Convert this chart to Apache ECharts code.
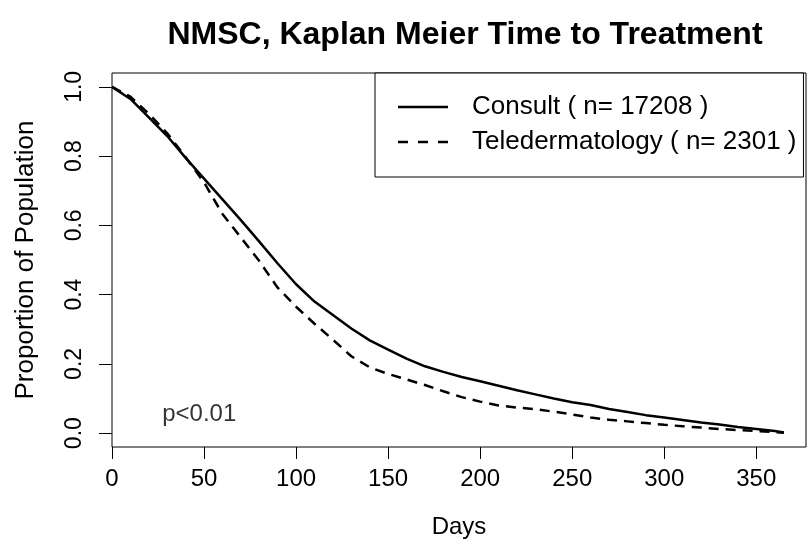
<!DOCTYPE html>
<html>
<head>
<meta charset="utf-8">
<script src="https://cdn.jsdelivr.net/npm/echarts@6/dist/echarts.min.js"></script>
<style>
html,body{margin:0;padding:0;background:#fff;}
#chart{width:809px;height:544px;}
</style>
</head>
<body>
<div id="chart"></div>
<script>
const titleText = 'NMSC, Kaplan Meier Time to Treatment';
const xName = 'Days';
const yName = 'Proportion of Population';
const xTicks = [0, 50, 100, 150, 200, 250, 300, 350];
const yTicks = [0, 0.2, 0.4, 0.6, 0.8, 1.0];
const days = [0,10,20,30,40,50,60,70,80,90,100,110,120,130,140,150,160,170,180,190,200,210,220,230,240,250,260,270,280,290,300,310,320,330,340,350,360,365];
const consult = [1.000,0.965,0.912,0.858,0.795,0.735,0.675,0.615,0.553,0.490,0.430,0.380,0.341,0.302,0.268,0.241,0.215,0.193,0.177,0.162,0.150,0.137,0.124,0.112,0.100,0.089,0.081,0.070,0.061,0.052,0.045,0.038,0.031,0.025,0.018,0.012,0.006,0.002];
const tele = [1.000,0.972,0.922,0.866,0.797,0.724,0.633,0.565,0.497,0.420,0.365,0.316,0.270,0.222,0.190,0.171,0.155,0.139,0.121,0.104,0.091,0.080,0.074,0.069,0.062,0.054,0.045,0.039,0.034,0.029,0.024,0.020,0.016,0.012,0.009,0.006,0.003,0.001];
const seriesNames = ['Consult ( n= 17208 )', 'Teledermatology ( n= 2301 )'];
const pText = 'p<0.01';
const pDay = 27;
const pValue = 0.055;

const FONT = 'Liberation Sans';
const chart = echarts.init(document.getElementById('chart'), null, {renderer: 'canvas'});
const pair = (vals) => days.map((d, i) => [d, vals[i]]);

chart.setOption({
  animation: false,
  backgroundColor: '#fff',
  textStyle: {fontFamily: FONT, color: '#000'},
  title: {
    text: titleText,
    left: 460, top: 14, textAlign: 'center',
    textStyle: {fontFamily: FONT, fontWeight: 'bold', fontSize: 32, color: '#000'}
  },
  grid: {
    left: 112, top: 73, right: 3, bottom: 96,
    show: true, borderColor: '#000', borderWidth: 1, backgroundColor: 'transparent'
  },
  legend: {
    orient: 'vertical',
    left: 375, top: 73,
    padding: [21, 7, 22, 23],
    itemGap: 9,
    itemWidth: 50, itemHeight: 2.5,
    borderColor: '#000', borderWidth: 1, borderRadius: 0,
    backgroundColor: '#fff',
    textStyle: {fontFamily: FONT, fontSize: 26, color: '#000', padding: [0, 0, 0, 19]},
    data: [
      {name: seriesNames[0], icon: 'path://M0,0H50V2.5H0Z', itemStyle: {color: '#000', borderWidth: 0}},
      {name: seriesNames[1], icon: 'path://M0,0H10V2.5H0Z M20,0H30V2.5H20Z M40,0H50V2.5H40Z', itemStyle: {color: '#000', borderWidth: 0}}
    ]
  },
  xAxis: {
    type: 'value', min: 0, max: 377,
    name: xName, nameLocation: 'middle', nameGap: 68,
    nameTextStyle: {fontFamily: FONT, fontSize: 24, color: '#000'},
    axisLine: {show: false, onZero: false},
    splitLine: {show: false},
    axisTick: {show: true, length: 12, lineStyle: {color: '#000', width: 1}, customValues: xTicks},
    axisLabel: {show: true, margin: 20, fontFamily: FONT, fontSize: 24, color: '#000', customValues: xTicks}
  },
  yAxis: {
    type: 'value', min: -0.04, max: 1.04,
    name: yName, nameLocation: 'middle', nameGap: 73, nameRotate: 90,
    nameTextStyle: {fontFamily: FONT, fontSize: 26, color: '#000'},
    axisLine: {show: false, onZero: false},
    splitLine: {show: false},
    axisTick: {show: true, length: 13, lineStyle: {color: '#000', width: 1}, customValues: yTicks},
    axisLabel: {show: true, rotate: 90, margin: 26, fontFamily: FONT, fontSize: 23, color: '#000',
      customValues: yTicks, formatter: v => Number(v).toFixed(1)}
  },
  series: [
    {
      name: seriesNames[0], type: 'line', data: pair(consult),
      symbol: 'none', showSymbol: false, smooth: false,
      lineStyle: {color: '#000', width: 2.5, type: 'solid'},
      itemStyle: {color: '#000'}
    },
    {
      name: seriesNames[1], type: 'line', data: pair(tele),
      symbol: 'none', showSymbol: false, smooth: false,
      lineStyle: {color: '#000', width: 2.5, type: [10, 7]},
      itemStyle: {color: '#000'}
    },
    {
      name: 'annotation', type: 'scatter', data: [[pDay, pValue]],
      symbolSize: 1, itemStyle: {color: 'rgba(0,0,0,0)'}, silent: true,
      label: {show: true, formatter: pText, position: 'right', distance: 0,
        fontFamily: FONT, fontSize: 24, color: '#000'}
    }
  ]
});
</script>
</body>
</html>
